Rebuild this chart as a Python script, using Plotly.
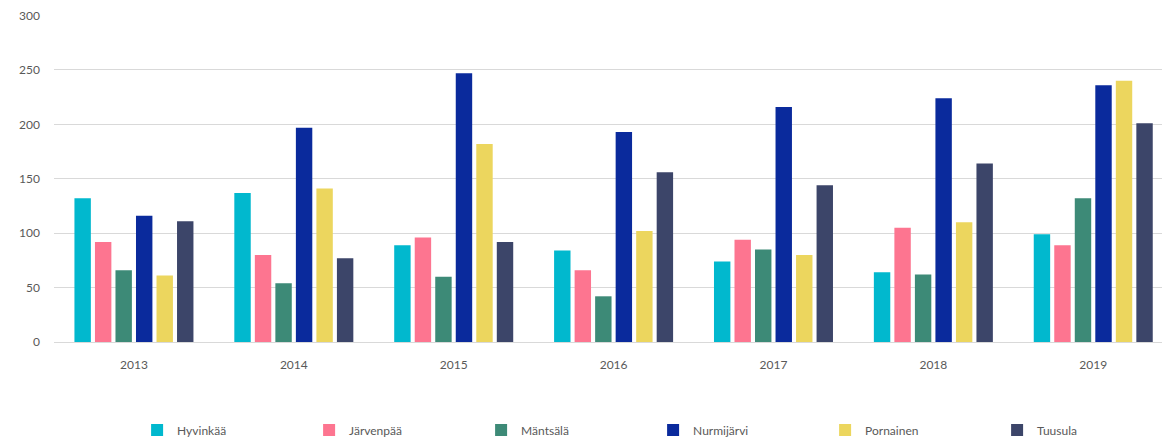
import plotly.graph_objects as go

years = ["2013", "2014", "2015", "2016", "2017", "2018", "2019"]
hyvinkaa = [132, 137, 89, 84, 74, 64, 99]
jarvenpaa = [92, 80, 96, 66, 94, 105, 89]
mantsala = [66, 54, 60, 42, 85, 62, 132]
nurmijarvi = [116, 197, 247, 193, 216, 224, 236]
pornainen = [61, 141, 182, 102, 80, 110, 240]
tuusula = [111, 77, 92, 156, 144, 164, 201]

series = [
    ("Hyvinkää", hyvinkaa, "#01B8CE"),
    ("Järvenpää", jarvenpaa, "#FD7590"),
    ("Mäntsälä", mantsala, "#3D8A77"),
    ("Nurmijärvi", nurmijarvi, "#0A2A9C"),
    ("Pornainen", pornainen, "#ECD65E"),
    ("Tuusula", tuusula, "#3C4569"),
]

fig = go.Figure()
for name, vals, col in series:
    fig.add_trace(go.Bar(x=years, y=vals, name=name, marker_color=col,
                         marker_line_width=0))

font = dict(family="Lato, Open Sans, sans-serif", size=12, color="#595959")
fig.update_layout(
    width=1162, height=438,
    barmode="group", bargap=0.23, bargroupgap=0.2,
    plot_bgcolor="white", paper_bgcolor="white",
    margin=dict(l=54, r=0, t=15, b=96, autoexpand=False),
    font=font,
    xaxis=dict(type="category", range=[-0.5, 6.43], showgrid=False,
               showline=False, ticks="", ticklabelstandoff=14,
               tickfont=font, automargin=False),
    yaxis=dict(range=[0, 300.5], tickvals=[0, 50, 100, 150, 200, 250, 300],
               gridcolor="#D9D9D9", gridwidth=1, zeroline=True,
               zerolinecolor="#D9D9D9", zerolinewidth=1, showline=False,
               ticks="", ticklabelstandoff=13, tickfont=font,
               automargin=False),
    legend=dict(orientation="h", x=0.075, xanchor="left", y=-0.225,
                yanchor="top", entrywidth=127, entrywidthmode="pixels",
                font=font, itemwidth=30, traceorder="normal"),
    showlegend=True,
)

fig.write_html("out.html",
               config={"displayModeBar": False},
               post_script="document.body.style.margin='0';"
                           "document.body.style.overflow='hidden';")
